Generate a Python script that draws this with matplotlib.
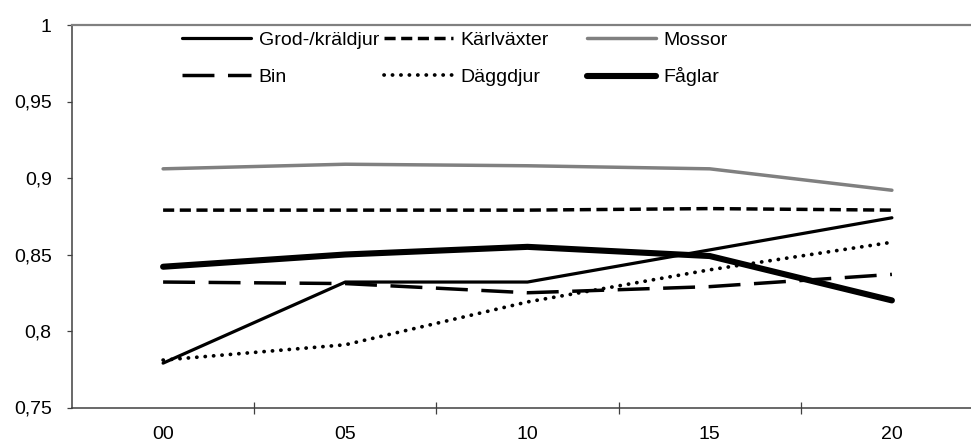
import matplotlib
matplotlib.use("Agg")
import matplotlib.pyplot as plt
from matplotlib.ticker import FixedLocator, FixedFormatter

plt.rcParams['font.family'] = ['Liberation Sans', 'DejaVu Sans']

categories = ["00", "05", "10", "15", "20"]
grod = [0.779, 0.832, 0.832, 0.853, 0.874]
karl = [0.879, 0.879, 0.879, 0.880, 0.879]
mossor = [0.906, 0.909, 0.908, 0.906, 0.892]
bin_ = [0.832, 0.831, 0.825, 0.829, 0.837]
dagg = [0.781, 0.791, 0.819, 0.840, 0.858]
faglar = [0.842, 0.850, 0.855, 0.849, 0.820]
yticks = [0.75, 0.8, 0.85, 0.9, 0.95, 1.0]
yticklabels = ["0,75", "0,8", "0,85", "0,9", "0,95", "1"]

W, H = 971, 442
fig = plt.figure(figsize=(W / 100, H / 100), dpi=100)
left, right, top, bottom = 72, 983, 25, 407.5
ax = fig.add_axes([left / W, 1 - bottom / H, (right - left) / W, (bottom - top) / H])

x = list(range(len(categories)))
l_grod, = ax.plot(x, grod, color='black', lw=2.3, solid_capstyle='round', label='Grod-/kräldjur', zorder=5)
l_karl, = ax.plot(x, karl, color='black', lw=2.5, dashes=(3.2, 1.6), dash_capstyle='butt', label='Kärlväxter', zorder=3)
l_moss, = ax.plot(x, mossor, color='#808080', lw=2.5, solid_capstyle='round', label='Mossor', zorder=3)
l_bin, = ax.plot(x, bin_, color='black', lw=2.5, dashes=(9.2, 3.9), dash_capstyle='butt', label='Bin', zorder=3)
l_dagg, = ax.plot(x, dagg, color='black', lw=2.7, dashes=(0.05, 2.2), dash_capstyle='round', label='Däggdjur', zorder=3)
l_fagl, = ax.plot(x, faglar, color='black', lw=4.4, solid_capstyle='round', label='Fåglar', zorder=4)

ax.set_xlim(-0.5, len(categories) - 0.5)
ax.set_ylim(0.75, 1.0)

ax.yaxis.set_major_locator(FixedLocator(yticks))
ax.yaxis.set_major_formatter(FixedFormatter(yticklabels))
ax.xaxis.set_major_locator(FixedLocator(x))
ax.xaxis.set_major_formatter(FixedFormatter(categories))
ax.xaxis.set_minor_locator(FixedLocator([i + 0.5 for i in range(len(categories) - 1)]))

ax.tick_params(axis='y', which='major', direction='out', length=3.6, width=0.9, color='#404040',
               labelsize=14, pad=11)
ax.tick_params(axis='x', which='major', length=0, labelsize=14, pad=13)
ax.tick_params(axis='x', which='minor', direction='inout', length=8.5, width=0.9, color='#404040')

for s in ['left', 'bottom']:
    ax.spines[s].set_color('#404040')
    ax.spines[s].set_linewidth(1.1)
ax.spines['top'].set_color('#808080')
ax.spines['top'].set_linewidth(1.6)
ax.spines['right'].set_visible(False)

entries = [(l_grod, 182, 40), (l_karl, 384, 40), (l_moss, 587, 40),
           (l_bin, 182, 77), (l_dagg, 384, 77), (l_fagl, 587, 77)]
for handle, px, py in entries:
    fig.legend(handles=[handle], loc='center left', bbox_to_anchor=(px / W, 1 - py / H),
               frameon=False, fontsize=14, handlelength=3.55, handletextpad=0.4,
               borderpad=0, borderaxespad=0)

fig.savefig('out.png', dpi=100)
